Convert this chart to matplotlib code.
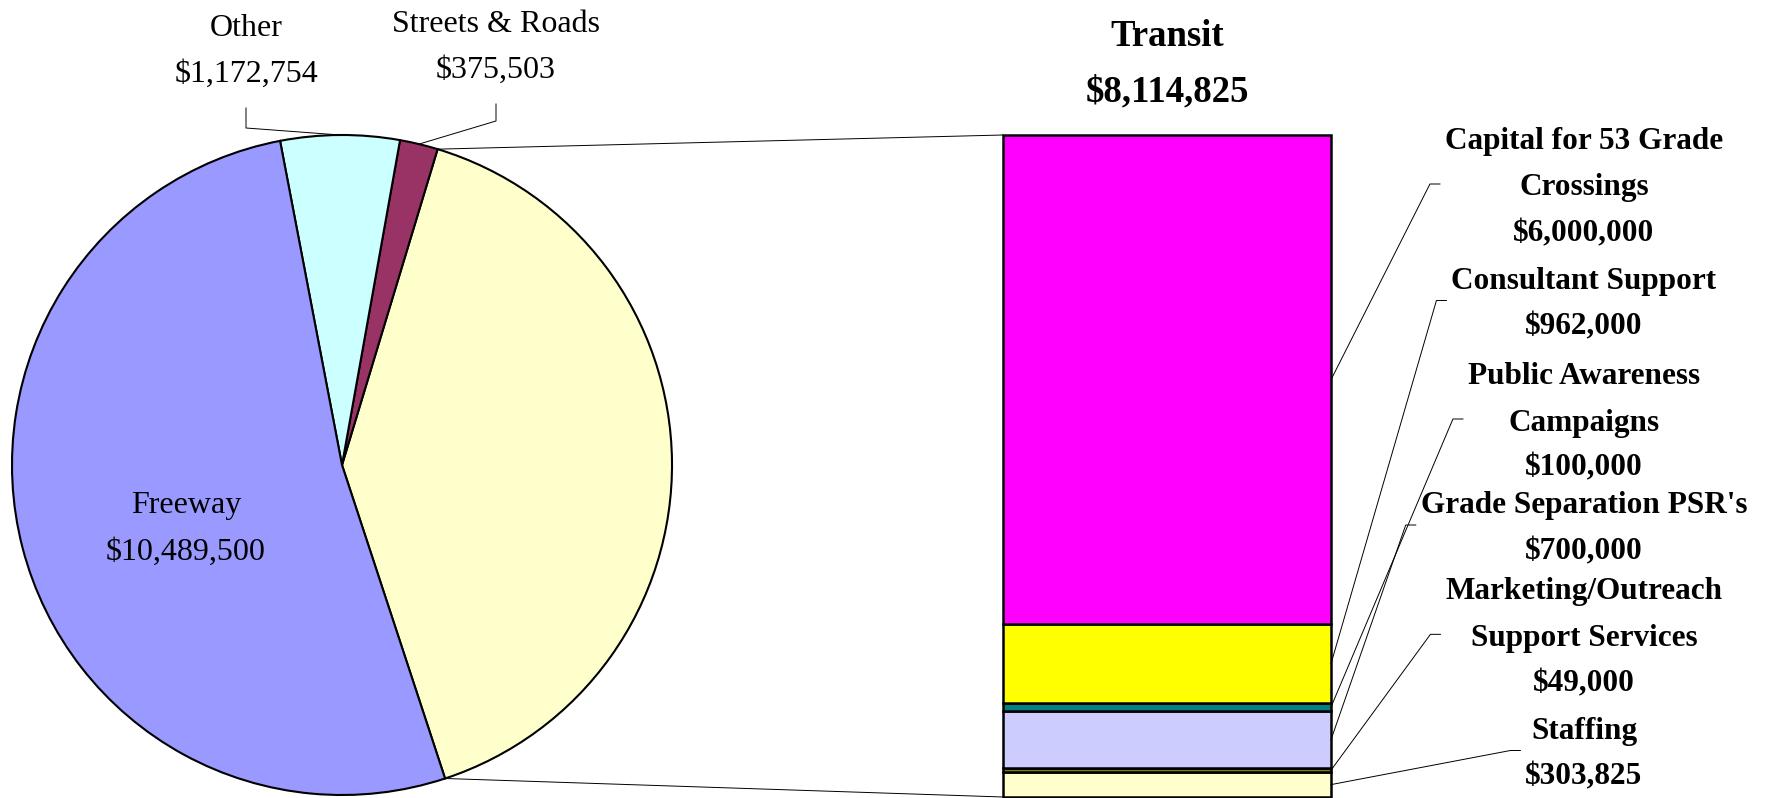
import matplotlib.pyplot as plt
import numpy as np
from matplotlib.lines import Line2D
from matplotlib.patches import ConnectionPatch

W, H = 1768, 798

# main pie: funding by mode (Transit first, it is split out into the bar)
pie_labels = ["Transit", "Streets & Roads", "Other", "Freeway"]
pie_values = [8114825, 375503, 1172754, 10489500]
pie_colors = ["#FFFFCC", "#993366", "#CCFFFF", "#9999FF"]

# transit breakdown, bottom to top
bar_labels = [
    ["Staffing"],
    ["Marketing/Outreach", "Support Services"],
    ["Grade Separation PSR's"],
    ["Public Awareness", "Campaigns"],
    ["Consultant Support"],
    ["Capital for 53 Grade", "Crossings"],
]
bar_values = [303825, 49000, 700000, 100000, 962000, 6000000]
bar_colors = ["#FFFFCC", "#808000", "#CCCCFF", "#008080", "#FFFF00", "#FF00FF"]


def money(v):
    return f"${v:,}"


def fig_xy(x, y):
    # pixel position (from top-left) -> figure fraction
    return x / W, 1 - y / H


plt.rcParams["font.family"] = ["Liberation Serif", "DejaVu Serif"]

fig = plt.figure(figsize=(W / 100, H / 100), dpi=100)
fig.patch.set_facecolor("white")

# pie on the left
ax_pie = fig.add_axes([12 / W, 3 / H, 660 / W, 660 / H])
wedges, _ = ax_pie.pie(
    pie_values,
    colors=pie_colors,
    startangle=-71.8,
    counterclock=True,
    wedgeprops=dict(edgecolor="black", linewidth=1.5),
)
ax_pie.set_xlim(-1, 1)
ax_pie.set_ylim(-1, 1)
ax_pie.axis("off")

# stacked bar on the right
total = sum(bar_values)
ax_bar = fig.add_axes([1003 / W, 1 / H, 328 / W, 662 / H])
bottoms = np.concatenate([[0], np.cumsum(bar_values)[:-1]])
for v, b, c in zip(bar_values, bottoms, bar_colors):
    ax_bar.bar(0.5, v, bottom=b, width=1.0, color=c, edgecolor="black",
               linewidth=1.8, clip_on=False)
ax_bar.set_xlim(0, 1)
ax_bar.set_ylim(0, total)
ax_bar.axis("off")

# lines joining the transit wedge to the bar
tw = wedges[0]
for ang, ybar in [(tw.theta2, total), (tw.theta1, 0)]:
    a = np.deg2rad(ang)
    con = ConnectionPatch(xyA=(np.cos(a), np.sin(a)), coordsA=ax_pie.transData,
                          xyB=(0, ybar), coordsB=ax_bar.transData,
                          color="black", linewidth=0.7)
    fig.add_artist(con)

# titles and labels
fs = 23
for i, y in enumerate([32, 88]):
    s = "Transit" if i == 0 else money(pie_values[0])
    fig.text(*fig_xy(1167, y), s, ha="center", va="center_baseline",
             fontsize=26.5, fontweight="bold")

pie_text_pos = {"Streets & Roads": (496, [21, 67]), "Other": (246, [25, 71]),
                "Freeway": (186, [502, 549])}
for name, val in zip(pie_labels[1:], pie_values[1:]):
    x, ys = pie_text_pos[name]
    for s, y in zip([name, money(val)], ys):
        fig.text(*fig_xy(x, y), s, ha="center", va="center_baseline", fontsize=fs)

# leaders for the two small wedges
inv = fig.transFigure.inverted()
for i, name in [(1, "Streets & Roads"), (2, "Other")]:
    w = wedges[i]
    a = np.deg2rad((w.theta1 + w.theta2) / 2)
    p = inv.transform(ax_pie.transData.transform((np.cos(a), np.sin(a))))
    x, ys = pie_text_pos[name]
    top = ys[1] + 37
    elbow = top + (20 if name == "Other" else 17)
    xs = [p[0], fig_xy(x, elbow)[0], fig_xy(x, top)[0]]
    yy = [p[1], fig_xy(x, elbow)[1], fig_xy(x, top)[1]]
    fig.add_artist(Line2D(xs, yy, color="black", linewidth=0.7))

bar_label_y = [[728, 773], [588, 635, 680], [502, 548], [373, 420, 464],
               [278, 323], [138, 184, 230]]
label_x = 1584
blocks = []
for lines, v, ys in zip(bar_labels, bar_values, bar_label_y):
    texts = []
    for s, y in zip(lines + [money(v)], ys):
        texts.append(fig.text(*fig_xy(label_x, y), s, ha="center",
                              va="center_baseline", fontsize=22.5,
                              fontweight="bold"))
    blocks.append((texts, np.mean(ys)))

fig.canvas.draw()
renderer = fig.canvas.get_renderer()
for (texts, yc), v, b in zip(blocks, bar_values, bottoms):
    x0 = min(t.get_window_extent(renderer).x0 for t in texts)
    start = inv.transform(ax_bar.transData.transform((1, b + v / 2)))
    e1 = inv.transform((x0 - 15, H - yc))
    e2 = inv.transform((x0 - 5, H - yc))
    fig.add_artist(Line2D([start[0], e1[0], e2[0]], [start[1], e1[1], e2[1]],
                          color="black", linewidth=0.7))

fig.savefig("out.png", dpi=100)
